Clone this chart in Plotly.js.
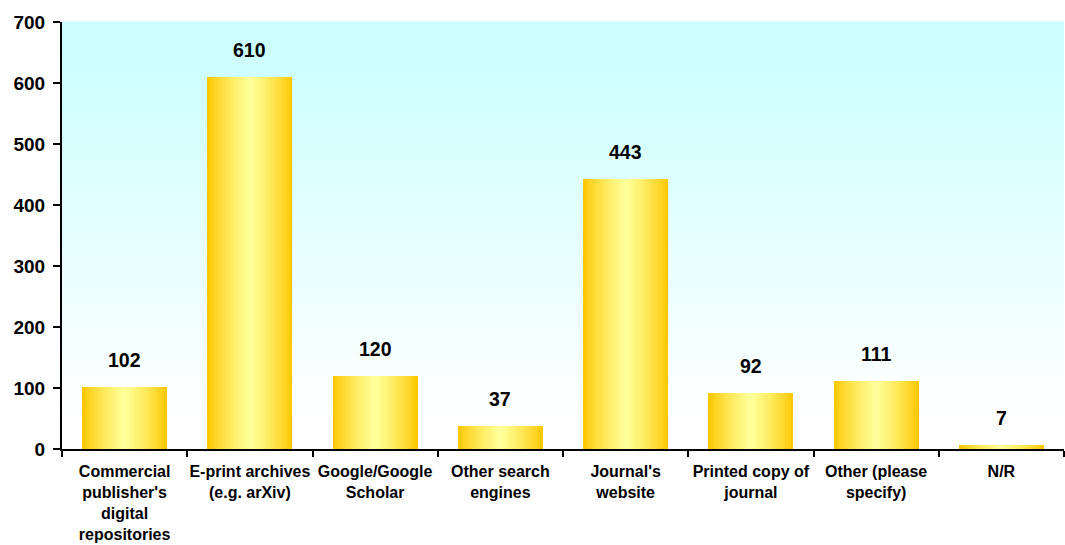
<!DOCTYPE html>
<html>
<head>
<meta charset="utf-8">
<script src="https://cdn.plot.ly/plotly-3.0.1.min.js"></script>
<style>html,body{margin:0;padding:0;background:#fff;}#chart{width:1065px;height:545px;}</style>
</head>
<body>
<div id="chart"></div>
<script>
const categories = [
  "Commercial<br>publisher's<br>digital<br>repositories",
  "E-print archives<br>(e.g. arXiv)",
  "Google/Google<br>Scholar",
  "Other search<br>engines",
  "Journal's<br>website",
  "Printed copy of<br>journal",
  "Other (please<br>specify)",
  "N/R"
];
const values = [102, 610, 120, 37, 443, 92, 111, 7];
const yTicks = [0, 100, 200, 300, 400, 500, 600, 700];

const FONT = "Liberation Sans, Arial, sans-serif";

// Horizontal gradient on bars: overlaid bars of decreasing width
function mix(a, b, t) {
  const r = Math.round(a[0] + (b[0] - a[0]) * t);
  const g = Math.round(a[1] + (b[1] - a[1]) * t);
  const bl = Math.round(a[2] + (b[2] - a[2]) * t);
  return `rgb(${r},${g},${bl})`;
}
const gold = [255, 200, 0];
const light = [255, 255, 153];
const barWidth = 0.68;
const steps = 16;
const traces = [];
for (let k = 0; k < steps; k++) {
  const t = k / (steps - 1);
  traces.push({
    type: "bar",
    x: categories,
    y: values,
    width: barWidth * (1 - k / steps),
    marker: { color: mix(gold, light, Math.pow(t, 0.8)), line: { width: 0 } },
    hoverinfo: k === 0 ? "x+y" : "skip",
    showlegend: false
  });
}

// Background gradient (cyan top -> white bottom) as stacked stripes
const shapes = [];
const bands = 60;
const cyan = [204, 255, 255];
const white = [255, 255, 255];
for (let i = 0; i < bands; i++) {
  const y0 = i / bands, y1 = (i + 1) / bands;
  const mid = (y0 + y1) / 2;
  let t = (mid - 0.08) / (0.92 - 0.08);
  t = Math.max(0, Math.min(1, t));
  shapes.push({
    type: "rect", xref: "paper", yref: "paper", layer: "below",
    x0: 0, x1: 1, y0: y0, y1: y1 + 0.002,
    line: { width: 0 }, fillcolor: mix(white, cyan, t)
  });
}

const annotations = categories.map((c, i) => ({
  x: c, y: values[i], text: String(values[i]),
  showarrow: false, yanchor: "bottom", yshift: 14,
  font: { family: FONT, size: 19.5, color: "#000", weight: "bold" }
}));

const layout = {
  width: 1065, height: 545,
  margin: { l: 62, r: 1, t: 22, b: 96 },
  paper_bgcolor: "#ffffff",
  plot_bgcolor: "rgba(0,0,0,0)",
  barmode: "overlay",
  bargap: 0,
  shapes: shapes,
  annotations: annotations,
  font: { family: FONT, color: "#000" },
  xaxis: {
    type: "category",
    tickson: "boundaries",
    tickangle: 0,
    ticks: "outside", ticklen: 6, tickwidth: 2, tickcolor: "#000",
    ticklabelstandoff: 7,
    showline: true, linecolor: "#000", linewidth: 2,
    showgrid: false, zeroline: false,
    tickfont: { family: FONT, size: 16, color: "#000", weight: "bold" },
    automargin: false,
    fixedrange: true
  },
  yaxis: {
    range: [0, 700],
    tickvals: yTicks,
    ticktext: yTicks.map(String),
    ticks: "outside", ticklen: 7, tickwidth: 2, tickcolor: "#000",
    ticklabelstandoff: 4,
    showline: true, linecolor: "#000", linewidth: 2,
    showgrid: false, zeroline: false,
    tickfont: { family: FONT, size: 19, color: "#000", weight: "bold" },
    automargin: false,
    fixedrange: true
  }
};

Plotly.newPlot("chart", traces, layout, { displayModeBar: false, staticPlot: true });
</script>
</body>
</html>
